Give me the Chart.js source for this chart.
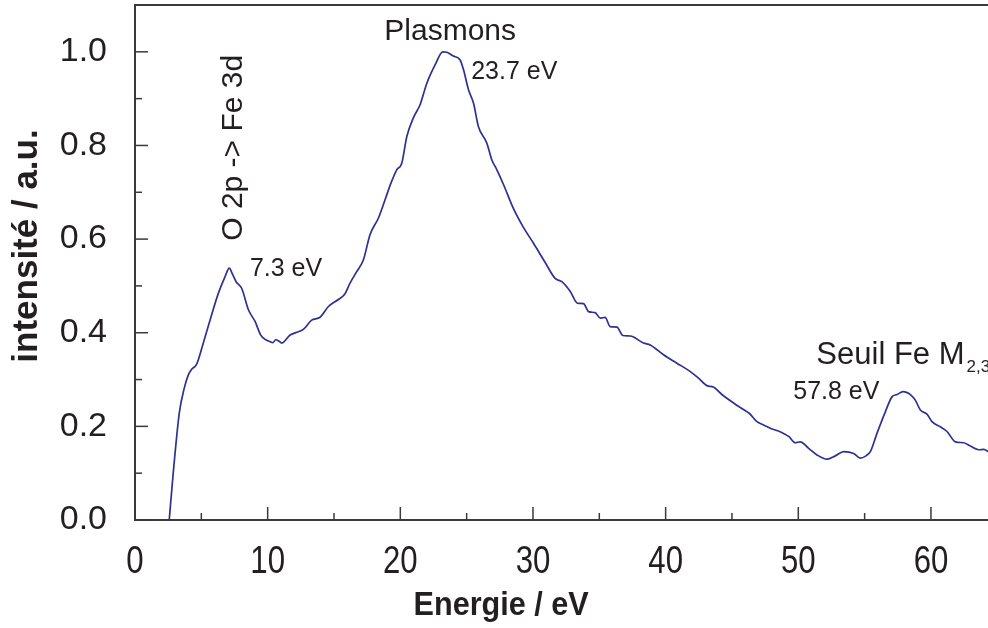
<!DOCTYPE html>
<html><head><meta charset="utf-8">
<script src="https://cdn.jsdelivr.net/npm/chart.js@4.4.1/dist/chart.umd.min.js"></script>
<style>html,body{margin:0;padding:0;background:#fff;}#wrap{width:988px;height:628px;}</style>
</head><body><div id="wrap"><canvas id="c" width="988" height="628"></canvas></div>
<script>
// ---- data ----
const energy = [2.58,2.88,3.34,3.7,4.02,4.27,4.65,5.15,5.66,6.28,6.79,7.11,7.35,7.62,8.04,8.55,9.05,9.48,9.8,10.18,10.4,10.61,10.85,11.06,11.69,12.2,12.69,13.32,13.95,14.58,15.33,15.8,16.21,16.7,17.22,17.72,18.35,18.85,19.3,19.73,20.11,20.49,21.0,21.49,22.0,22.62,23.2,23.5,24.0,24.5,24.76,25.14,25.52,25.89,26.52,26.9,27.28,27.8,28.53,29.28,30.04,30.92,31.67,32.18,32.81,33.36,33.81,34.19,34.69,35.07,35.44,35.82,36.33,36.78,37.33,38.34,38.84,39.84,40.85,41.86,42.48,43.11,43.6,44.24,45.12,45.87,46.3,46.88,47.38,47.89,48.5,48.89,49.3,49.77,50.15,50.78,51.41,52.17,52.79,53.42,54.17,54.68,55.1,55.43,55.93,56.56,57.06,57.44,57.89,58.2,58.45,58.82,59.2,59.7,60.08,60.71,61.21,61.84,62.47,62.97,63.6,63.98,64.33];
const intensity = [0.0,0.10,0.229,0.28,0.31,0.322,0.333,0.378,0.427,0.484,0.52,0.538,0.525,0.509,0.495,0.449,0.424,0.395,0.386,0.381,0.379,0.385,0.382,0.378,0.395,0.401,0.407,0.427,0.433,0.456,0.471,0.482,0.506,0.53,0.556,0.61,0.645,0.684,0.72,0.748,0.762,0.819,0.86,0.887,0.933,0.972,1.0,0.999,0.991,0.983,0.962,0.919,0.89,0.84,0.805,0.769,0.748,0.715,0.665,0.625,0.591,0.55,0.516,0.509,0.488,0.463,0.462,0.445,0.443,0.431,0.433,0.413,0.412,0.394,0.393,0.378,0.374,0.353,0.335,0.317,0.303,0.287,0.284,0.268,0.25,0.236,0.228,0.21,0.203,0.196,0.19,0.185,0.178,0.165,0.167,0.153,0.139,0.13,0.137,0.146,0.142,0.132,0.137,0.146,0.185,0.231,0.263,0.268,0.274,0.272,0.268,0.256,0.235,0.226,0.21,0.199,0.189,0.167,0.165,0.158,0.15,0.151,0.146];
const xTicks = [0,10,20,30,40,50,60];
const xMinorTicks = [5,15,25,35,45,55];
const yTicks = [0,0.2,0.4,0.6,0.8,1.0];
const yMinorTicks = [0.1,0.3,0.5,0.7,0.9];
const xTitle = 'Energie / eV';
const yTitle = 'intensité / a.u.';
const noteTexts = ['Plasmons','23.7 eV','7.3 eV','57.8 eV','Seuil Fe M','2,3','O 2p -> Fe 3d'];

// ---- layout / style ----
const TXT = '#231f20', AX = '#3a3a3a', LINE = '#2e3192';
const SANS = "'Liberation Sans', Arial, Helvetica, sans-serif";
const notePlace = [
  {x:23.76, y:1.026, align:'center', size:30},
  {x:25.34, y:0.942, align:'left', size:25},
  {x:8.66,  y:0.521, align:'left', size:25},
  {x:49.62, y:0.2585, align:'left', size:25},
  {x:51.36, y:0.333, align:'left', size:31, sub:5},
  null,
  {x:7.47, y:0.795, align:'center', size:30, rot:true}
];
const xTitleAt = 27.6; // axis value under the centre of the x title

const decor = {
  id:'decor',
  afterDraw(chart){
    const ctx = chart.ctx, xs = chart.scales.x, ys = chart.scales.y, a = chart.chartArea;
    ctx.save();
    ctx.strokeStyle = AX; ctx.lineWidth = 1.5;
    const tick = (x1,y1,x2,y2)=>{ctx.beginPath();ctx.moveTo(x1,y1);ctx.lineTo(x2,y2);ctx.stroke();};
    xTicks.forEach(v=>{const p=xs.getPixelForValue(v);tick(p,a.bottom,p,a.bottom-13);});
    xMinorTicks.forEach(v=>{const p=xs.getPixelForValue(v);tick(p,a.bottom,p,a.bottom-7);});
    yTicks.forEach(v=>{const p=ys.getPixelForValue(v);tick(a.left,p,a.left+13,p);});
    yMinorTicks.forEach(v=>{const p=ys.getPixelForValue(v);tick(a.left,p,a.left+7,p);});
    ctx.lineWidth = 2;
    tick(a.left-1,a.top,a.right,a.top);
    ctx.fillStyle = TXT;
    // x tick labels (condensed face, as in the reference)
    ctx.font = '38px ' + SANS; ctx.textAlign='center'; ctx.textBaseline='alphabetic';
    xTicks.forEach(v=>{
      const p = xs.getPixelForValue(v);
      ctx.save(); ctx.translate(p, a.bottom + 53); ctx.scale(0.82,1); ctx.fillText(String(v),0,0); ctx.restore();
    });
    // x title
    ctx.font = 'bold 34px ' + SANS;
    ctx.save(); ctx.translate(xs.getPixelForValue(xTitleAt), 615); ctx.scale(0.9,1); ctx.fillText(xTitle,0,0); ctx.restore();
    // y title
    ctx.font = 'bold 35px ' + SANS;
    ctx.textAlign='center'; ctx.textBaseline='middle';
    ctx.save(); ctx.translate(27, 246); ctx.rotate(-Math.PI/2); ctx.fillText(yTitle,0,0); ctx.restore();
    // annotations
    ctx.textBaseline='alphabetic';
    noteTexts.forEach((t,i)=>{
      const p = notePlace[i]; if(!p) return;
      const px = xs.getPixelForValue(p.x), py = ys.getPixelForValue(p.y);
      ctx.font = p.size + 'px ' + SANS;
      if(p.rot){
        ctx.save(); ctx.translate(px,py); ctx.rotate(-Math.PI/2);
        ctx.textAlign='center'; ctx.textBaseline='middle'; ctx.fillText(t,0,0); ctx.restore();
        return;
      }
      ctx.textAlign = p.align;
      ctx.fillText(t,px,py);
      if(p.sub!==undefined){
        const w = ctx.measureText(t).width;
        ctx.font = '17px ' + SANS; ctx.textAlign='left';
        ctx.fillText(noteTexts[p.sub], px+w+2, py+8);
      }
    });
    ctx.restore();
  }
};

new Chart(document.getElementById('c'),{
  type:'line',
  data:{datasets:[{
    data: energy.map((e,i)=>({x:e,y:intensity[i]})),
    borderColor: LINE, borderWidth:1.7, pointRadius:0, fill:false,
    cubicInterpolationMode:'monotone'
  }]},
  options:{
    responsive:false, animation:false, devicePixelRatio:1,
    layout:{padding:{top:5,left:0,right:0,bottom:0}},
    plugins:{legend:{display:false}, tooltip:{enabled:false}},
    scales:{
      x:{type:'linear', min:0, max:64.3,
        afterBuildTicks(s){s.ticks = xTicks.map(v=>({value:v}));},
        afterFit(s){s.height = 108; s.paddingLeft = 0; s.paddingRight = 0;},
        grid:{display:false, drawTicks:false},
        border:{display:true, color:AX, width:2},
        ticks:{display:false},
        title:{display:false}
      },
      y:{type:'linear', min:0, max:1.1,
        afterBuildTicks(s){s.ticks = yTicks.map(v=>({value:v}));},
        afterFit(s){s.width = 135; s.paddingTop = 0; s.paddingBottom = 0;},
        grid:{display:false, drawTicks:false},
        border:{display:true, color:AX, width:2},
        ticks:{color:TXT, padding:28, font:{family:SANS, size:34}, callback:v=>Number(v).toFixed(1)}
      }
    }
  },
  plugins:[decor]
});
</script></body></html>
